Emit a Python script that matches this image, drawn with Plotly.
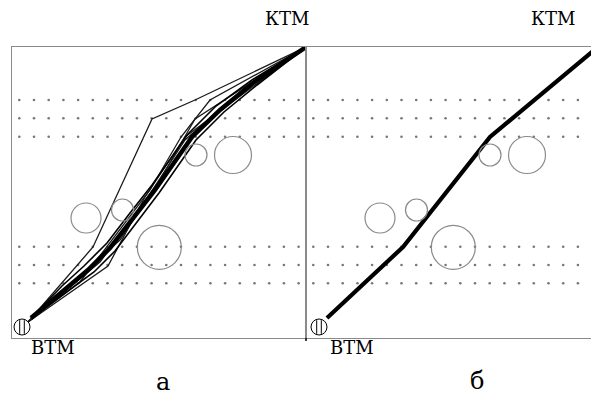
import plotly.graph_objects as go

# ---------------- data (panel units: x from left edge, y from bottom edge) ----------------
# dotted reference rows
dot_row_y = [238, 219.7, 201.3, 91.3, 73, 54.7]
dot_col_x = [7.3, 22.0, 36.7, 51.4, 66.1, 80.8, 95.5, 110.2, 124.9, 139.6,
             154.3, 169.0, 183.7, 198.4, 213.1, 227.8, 242.5, 257.2, 271.9, 286.6]

# obstacles (circles): centre x, centre y, radius
circle_x = [184, 221, 74, 110.5, 147.3]
circle_y = [183, 183, 120, 128, 90.7]
circle_r = [11, 18.5, 15, 11, 22]

# well symbol (ВТМ) positions
well_left = (10, 11)
well_right = (13, 11)

# panel a: candidate trajectories
traj_a_x = [16, 81, 140, 183, 294]
traj_a_y = [16, 91, 219, 238, 291]
traj_b_x = [16, 96, 133, 173, 294]
traj_b_y = [16, 72, 141, 201, 291]
traj_c_x = [16, 68, 138, 169, 183, 294]
traj_c_y = [16, 56, 148, 201, 219, 291]
traj_d_x = [16, 88, 148, 183, 198, 294]
traj_d_y = [16, 76, 158, 219, 238, 291]
traj_e_x = [16, 108, 173, 228, 294]
traj_e_y = [16, 98, 198, 246, 291]

# panel a: dense bundle of near-optimal trajectories
bundle1_x = [19, 55, 76, 98, 121, 143, 180, 208, 241, 294]
bundle1_y = [20, 51, 68, 90, 120, 148, 201, 228, 255, 291]
bundle2_x = [19, 50, 72, 95, 118, 140, 176, 204, 240, 294]
bundle2_y = [20, 52, 72, 95, 125, 153, 204, 232, 258, 291]
bundle3_x = [19, 60, 82, 103, 125, 147, 184, 212, 245, 294]
bundle3_y = [20, 50, 66, 87, 116, 145, 198, 226, 253, 291]

# panel б: optimal trajectory
opt_x = [21, 97, 184, 292]
opt_y = [20, 91, 201, 291]

# labels
top_label = "КТМ"
bottom_label = "ВТМ"
panel_labels = ["а", "б"]

# ---------------- figure ----------------
# the page body has an 8 px margin, so the figure is placed at (8, 8)
OFF = 8
W, H = 599 - OFF, 396 - OFF
fig = go.Figure()

GRAY = "#8a8a8a"
DOT = "#777777"

for xa, ya in [("x", "y"), ("x2", "y2")]:
    xs, ys = [], []
    for yv in dot_row_y:
        for xv in dot_col_x:
            xs.append(xv)
            ys.append(yv)
    fig.add_trace(go.Scatter(x=xs, y=ys, mode="markers", xaxis=xa, yaxis=ya,
                             marker=dict(size=2.6, color=DOT), hoverinfo="skip",
                             showlegend=False))

for tx, ty in [(traj_a_x, traj_a_y), (traj_b_x, traj_b_y), (traj_c_x, traj_c_y),
               (traj_d_x, traj_d_y), (traj_e_x, traj_e_y)]:
    fig.add_trace(go.Scatter(x=tx, y=ty, mode="lines", xaxis="x", yaxis="y",
                             line=dict(color="#1a1a1a", width=1.3),
                             showlegend=False, hoverinfo="skip"))
for bx, by, w in [(bundle2_x, bundle2_y, 1.6), (bundle3_x, bundle3_y, 1.6),
                  (bundle1_x, bundle1_y, 4.5)]:
    fig.add_trace(go.Scatter(x=bx, y=by, mode="lines", xaxis="x", yaxis="y",
                             line=dict(color="black", width=w),
                             showlegend=False, hoverinfo="skip"))

fig.add_trace(go.Scatter(x=opt_x, y=opt_y, mode="lines", xaxis="x2", yaxis="y2",
                         line=dict(color="black", width=4.2),
                         showlegend=False, hoverinfo="skip"))

shapes = []
for xr, yr in [("x", "y"), ("x2", "y2")]:
    for cx, cy, r in zip(circle_x, circle_y, circle_r):
        shapes.append(dict(type="circle", xref=xr, yref=yr,
                           x0=cx - r, x1=cx + r, y0=cy - r, y1=cy + r,
                           line=dict(color=GRAY, width=1.2)))
for (wx, wy), xr, yr in [(well_left, "x", "y"), (well_right, "x2", "y2")]:
    shapes.append(dict(type="circle", xref=xr, yref=yr,
                       x0=wx - 8, x1=wx + 8, y0=wy - 8, y1=wy + 8,
                       line=dict(color="black", width=1)))
    for dx in (-2.3, 2.3):
        shapes.append(dict(type="line", xref=xr, yref=yr,
                           x0=wx + dx, x1=wx + dx, y0=wy - 6.8, y1=wy + 6.8,
                           line=dict(color="black", width=1)))
shapes.append(dict(type="line", xref="paper", yref="paper",
                   x0=(306 - OFF) / W, x1=(306 - OFF) / W,
                   y0=1 - (338 - OFF) / H, y1=1 - (341 - OFF) / H,
                   line=dict(color="black", width=1.5)))


def px(x):
    return (x - OFF) / W


def py(y):
    return 1 - (y - OFF) / H


FONT = "DejaVu Serif"
ann = []
for x, y, t, s in [(287, 18, top_label, 18), (553, 18, top_label, 18),
                   (53, 347, bottom_label, 18), (352, 347, bottom_label, 18),
                   (163, 382, panel_labels[0], 24), (477, 381, panel_labels[1], 24)]:
    ann.append(dict(x=px(x), y=py(y), xref="paper", yref="paper", text=t,
                    showarrow=False, xanchor="center", yanchor="middle",
                    font=dict(family=FONT, size=s, color="black")))

ydom = [1 - (338 - OFF) / H, 1 - (47 - OFF) / H]
axis_common = dict(showgrid=False, zeroline=False, showticklabels=False, ticks="",
                   linecolor=GRAY, linewidth=1.3, showline=True)

fig.update_layout(
    width=W, height=H, margin=dict(l=0, r=0, t=0, b=0),
    paper_bgcolor="white", plot_bgcolor="white",
    font=dict(family=FONT),
    xaxis=dict(domain=[px(12), px(306)], range=[0, 294], anchor="y", mirror=True,
               **axis_common),
    yaxis=dict(domain=ydom, range=[0, 291], anchor="x", mirror=True, **axis_common),
    xaxis2=dict(domain=[px(306), 1], range=[0, 293], anchor="y2", mirror=True,
                **axis_common),
    yaxis2=dict(domain=ydom, range=[0, 291], anchor="x2", mirror=False, **axis_common),
    shapes=shapes, annotations=ann,
)

fig.write_html("out.html")
